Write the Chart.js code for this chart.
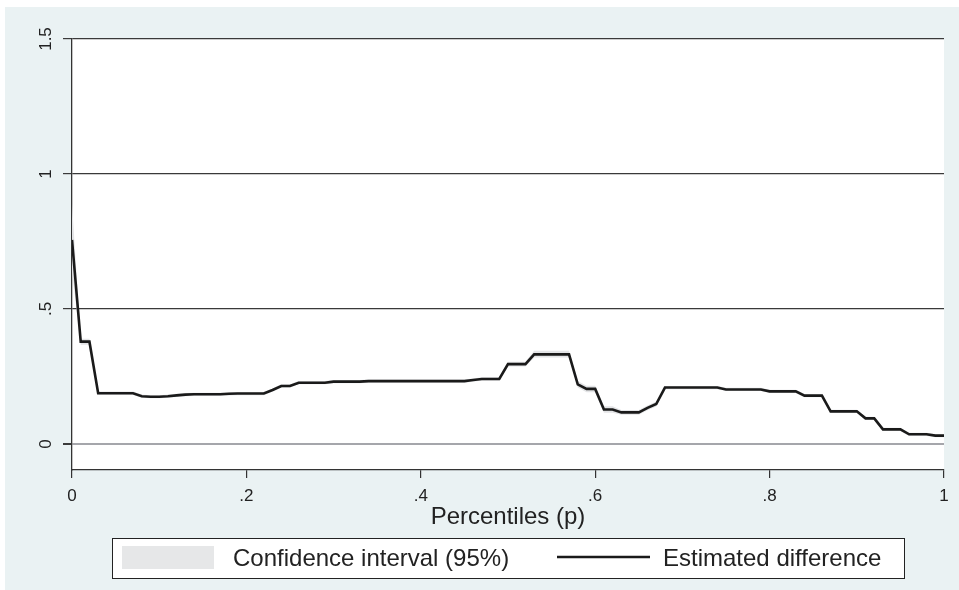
<!DOCTYPE html>
<html>
<head>
<meta charset="utf-8">
<script src="https://cdn.jsdelivr.net/npm/chart.js@4.4.0/dist/chart.umd.min.js"></script>
<style>
  body { margin: 0; background: #ffffff; }
  #wrap { width: 959px; height: 590px; }
</style>
</head>
<body>
<div id="wrap"><canvas id="chart" width="959" height="590"></canvas></div>
<script>
// percentiles (x)
const percentiles = [
  0, .01, .02, .03, .04, .05, .06, .07, .08, .09,
  .10, .11, .12, .13, .14, .15, .16, .17, .18, .19,
  .20, .21, .22, .23, .24, .25, .26, .27, .28, .29,
  .30, .31, .32, .33, .34, .35, .36, .37, .38, .39,
  .40, .41, .42, .43, .44, .45, .46, .47, .48, .49,
  .50, .51, .52, .53, .54, .55, .56, .57, .58, .59,
  .60, .61, .62, .63, .64, .65, .66, .67, .68, .69,
  .70, .71, .72, .73, .74, .75, .76, .77, .78, .79,
  .80, .81, .82, .83, .84, .85, .86, .87, .88, .89,
  .90, .91, .92, .93, .94, .95, .96, .97, .98, .99,
  1
];

// estimated difference
const estimate = [
  .756, .379, .379, .188, .188, .188, .188, .188, .177, .175,
  .175, .177, .180, .183, .184, .184, .184, .184, .186, .187,
  .187, .187, .187, .200, .215, .215, .227, .227, .227, .227,
  .231, .231, .231, .231, .233, .233, .233, .233, .233, .233,
  .233, .233, .233, .233, .233, .233, .237, .241, .241, .241,
  .296, .296, .296, .332, .332, .332, .332, .332, .221, .204,
  .204, .128, .128, .117, .117, .117, .134, .148, .209, .209,
  .209, .209, .209, .209, .209, .202, .202, .202, .202, .202,
  .195, .195, .195, .195, .179, .179, .179, .121, .121, .121,
  .121, .095, .095, .054, .054, .054, .036, .036, .036, .031,
  .031
];

// 95% confidence interval
const ciHigh = [
  .890, .390, .390, .194, .194, .194, .194, .194, .183, .181,
  .181, .183, .186, .189, .190, .190, .190, .190, .192, .193,
  .193, .193, .193, .206, .221, .221, .233, .233, .233, .233,
  .237, .237, .237, .237, .239, .239, .239, .239, .239, .239,
  .239, .239, .239, .239, .239, .239, .243, .247, .247, .247,
  .305, .305, .305, .345, .345, .345, .345, .345, .233, .216,
  .216, .140, .140, .126, .126, .126, .143, .157, .215, .215,
  .215, .215, .215, .215, .215, .208, .208, .208, .208, .208,
  .201, .201, .201, .201, .185, .185, .185, .127, .127, .127,
  .127, .101, .101, .060, .060, .060, .042, .042, .042, .037,
  .037
];
const ciLow = [
  .640, .368, .368, .182, .182, .182, .182, .182, .171, .169,
  .169, .171, .174, .177, .178, .178, .178, .178, .180, .181,
  .181, .181, .181, .194, .209, .209, .221, .221, .221, .221,
  .225, .225, .225, .225, .227, .227, .227, .227, .227, .227,
  .227, .227, .227, .227, .227, .227, .231, .235, .235, .235,
  .287, .287, .287, .320, .320, .320, .320, .320, .209, .192,
  .192, .116, .116, .108, .108, .108, .125, .139, .203, .203,
  .203, .203, .203, .203, .203, .196, .196, .196, .196, .196,
  .189, .189, .189, .189, .173, .173, .173, .115, .115, .115,
  .115, .089, .089, .048, .048, .048, .030, .030, .030, .025,
  .025
];

const xTicks = [0, .2, .4, .6, .8, 1];
const xTickLabels = ['0', '.2', '.4', '.6', '.8', '1'];
const yTicks = [0, .5, 1, 1.5];
const yTickLabels = ['0', '.5', '1', '1.5'];

const FONT = '"Liberation Sans", Arial, Helvetica, sans-serif';
const BG = '#eaf2f3';
const INK = '#222222';

function pts(ys) {
  return percentiles.map((p, i) => ({ x: p, y: ys[i] }));
}

const stataLook = {
  id: 'stataLook',
  beforeDraw(chart) {
    const c = chart.ctx, a = chart.chartArea;
    c.save();
    c.fillStyle = '#ffffff';
    c.fillRect(0, 0, chart.width, chart.height);
    c.fillStyle = BG;
    c.fillRect(5, 7, chart.width - 5, chart.height - 7);
    c.fillStyle = '#ffffff';
    c.fillRect(a.left, a.top, a.right - a.left, a.bottom - a.top);
    c.restore();
  },
  afterDraw(chart) {
    const c = chart.ctx, ys = chart.scales.y;
    c.save();
    c.fillStyle = INK;
    // rotated y tick labels
    c.font = '17px ' + FONT;
    c.textAlign = 'center';
    c.textBaseline = 'middle';
    yTicks.forEach((v, i) => {
      c.save();
      c.translate(46, ys.getPixelForValue(v));
      c.rotate(-Math.PI / 2);
      c.fillText(yTickLabels[i], 0, 0);
      c.restore();
    });
    // x axis title
    c.font = '24px ' + FONT;
    c.textAlign = 'center';
    c.textBaseline = 'alphabetic';
    c.fillText('Percentiles (p)', (chart.chartArea.left + chart.chartArea.right) / 2, 524);
    // legend
    c.strokeStyle = '#222222';
    c.lineWidth = 1;
    c.fillStyle = '#ffffff';
    c.fillRect(112, 538, 792, 40);
    c.strokeRect(112.5, 538.5, 792, 40);
    c.fillStyle = '#e6e7e8';
    c.fillRect(122, 546, 92, 23);
    c.fillStyle = INK;
    c.textAlign = 'left';
    c.fillText('Confidence interval (95%)', 233, 566);
    c.strokeStyle = '#1a1a1a';
    c.lineWidth = 2.6;
    c.beginPath();
    c.moveTo(557, 557);
    c.lineTo(650, 557);
    c.stroke();
    c.fillText('Estimated difference', 663, 566);
    c.restore();
  }
};

const ctx = document.getElementById('chart').getContext('2d');

const chart = new Chart(ctx, {
  type: 'line',
  data: {
    datasets: [
      {
        label: 'ci high',
        data: pts(ciHigh),
        borderWidth: 0,
        borderColor: 'rgba(0,0,0,0)',
        pointRadius: 0,
        fill: false
      },
      {
        label: 'Confidence interval (95%)',
        data: pts(ciLow),
        borderWidth: 0,
        borderColor: 'rgba(0,0,0,0)',
        backgroundColor: '#e3e4e6',
        pointRadius: 0,
        fill: '-1'
      },
      {
        label: 'Estimated difference',
        data: pts(estimate),
        borderColor: '#1a1a1a',
        borderWidth: 2.6,
        pointRadius: 0,
        tension: 0,
        fill: false,
        order: -1
      }
    ]
  },
  options: {
    responsive: false,
    animation: false,
    layout: { padding: { top: 39, right: 15, left: 0, bottom: 0 } },
    plugins: {
      legend: { display: false },
      tooltip: { enabled: false },
      filler: { drawTime: 'beforeDatasetsDraw' }
    },
    scales: {
      x: {
        type: 'linear',
        min: 0,
        max: 1,
        afterBuildTicks: (s) => { s.ticks = xTicks.map(v => ({ value: v })); },
        afterFit: (s) => { s.height = 120; },
        ticks: {
          callback: (v) => xTickLabels[xTicks.indexOf(v)],
          font: { size: 17, family: FONT },
          color: INK,
          padding: 8,
          maxRotation: 0
        },
        grid: { drawOnChartArea: false, tickLength: 8, tickColor: '#333333', lineWidth: 1.2 },
        border: { display: true, color: '#333333', width: 1.3 }
      },
      y: {
        type: 'linear',
        min: -0.0963,
        max: 1.5,
        afterBuildTicks: (s) => { s.ticks = yTicks.map(v => ({ value: v })); },
        afterFit: (s) => { s.width = 72; },
        ticks: { display: false },
        grid: {
          drawOnChartArea: true,
          tickLength: 9,
          color: (c) => (c.tick && c.tick.value === 0 ? '#a5a6ab' : '#3a3a3a'),
          lineWidth: (c) => (c.tick && c.tick.value === 0 ? 2 : 1.2),
          tickColor: '#3a3a3a'
        },
        border: { display: true, color: '#333333', width: 1.3 }
      }
    }
  },
  plugins: [stataLook]
});
</script>
</body>
</html>
